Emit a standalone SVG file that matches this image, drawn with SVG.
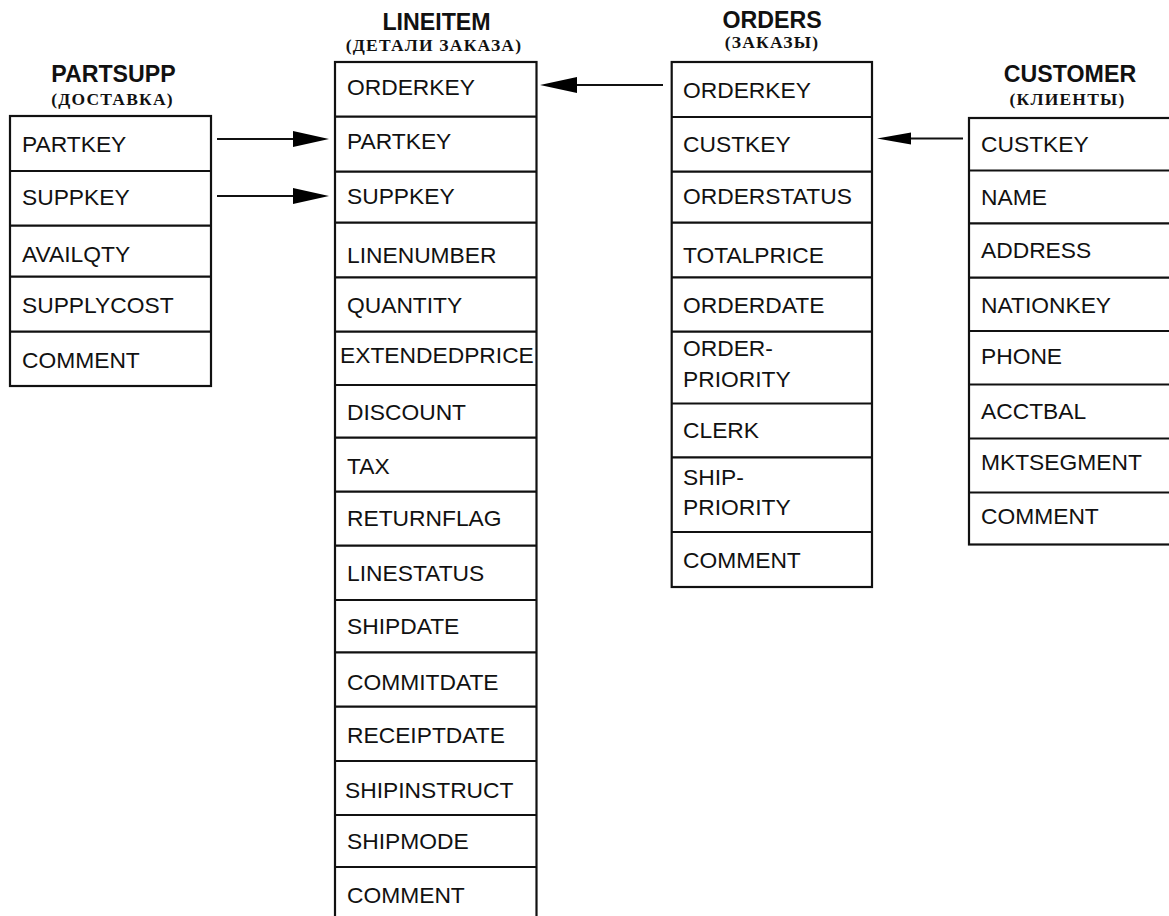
<svg xmlns="http://www.w3.org/2000/svg" width="1169" height="916" viewBox="0 0 1169 916">
<style>
.box{fill:#fff;stroke:#111;stroke-width:2.2}
.div{stroke:#111;stroke-width:2.2}
.f{font-family:"Liberation Sans",Arial,sans-serif;font-size:22.8px;fill:#111}
.t{font-family:"Liberation Sans",Arial,sans-serif;font-size:23.2px;font-weight:bold;fill:#111;text-anchor:middle}
.s{font-family:"Liberation Serif","Times New Roman",serif;font-size:17.5px;font-weight:bold;fill:#111;text-anchor:middle;letter-spacing:1.2px}
.ln{stroke:#111;stroke-width:2.2;fill:none}
.ah{fill:#000}
</style>
<rect width="1169" height="916" fill="#fff"/>
<g id="partsupp">
<text class="t" x="113.5" y="82">PARTSUPP</text>
<text class="s" x="112.5" y="104.5">(ДОСТАВКА)</text>
<rect class="box" x="10" y="116" width="201" height="270"/>
<line class="div" x1="10" y1="171" x2="211" y2="171"/>
<line class="div" x1="10" y1="225.7" x2="211" y2="225.7"/>
<line class="div" x1="10" y1="276.7" x2="211" y2="276.7"/>
<line class="div" x1="10" y1="331.7" x2="211" y2="331.7"/>
<text class="f" x="22" y="151.7">PARTKEY</text>
<text class="f" x="22" y="205">SUPPKEY</text>
<text class="f" x="22" y="261.7">AVAILQTY</text>
<text class="f" x="22" y="313.3">SUPPLYCOST</text>
<text class="f" x="22" y="368.3">COMMENT</text>
</g>
<g id="lineitem">
<text class="t" x="436.5" y="30">LINEITEM</text>
<text class="s" x="434" y="50.5">(ДЕТАЛИ ЗАКАЗА)</text>
<rect class="box" x="335" y="62" width="201.5" height="862"/>
<line class="div" x1="335" y1="116.7" x2="536.5" y2="116.7"/>
<line class="div" x1="335" y1="171.7" x2="536.5" y2="171.7"/>
<line class="div" x1="335" y1="222.7" x2="536.5" y2="222.7"/>
<line class="div" x1="335" y1="277.3" x2="536.5" y2="277.3"/>
<line class="div" x1="335" y1="331.7" x2="536.5" y2="331.7"/>
<line class="div" x1="335" y1="385" x2="536.5" y2="385"/>
<line class="div" x1="335" y1="437.7" x2="536.5" y2="437.7"/>
<line class="div" x1="335" y1="491.7" x2="536.5" y2="491.7"/>
<line class="div" x1="335" y1="545.7" x2="536.5" y2="545.7"/>
<line class="div" x1="335" y1="600" x2="536.5" y2="600"/>
<line class="div" x1="335" y1="652.3" x2="536.5" y2="652.3"/>
<line class="div" x1="335" y1="706.7" x2="536.5" y2="706.7"/>
<line class="div" x1="335" y1="761" x2="536.5" y2="761"/>
<line class="div" x1="335" y1="815" x2="536.5" y2="815"/>
<line class="div" x1="335" y1="867" x2="536.5" y2="867"/>
<text class="f" x="347" y="95">ORDERKEY</text>
<text class="f" x="347" y="149">PARTKEY</text>
<text class="f" x="347" y="204">SUPPKEY</text>
<text class="f" x="347" y="263">LINENUMBER</text>
<text class="f" x="347" y="313">QUANTITY</text>
<text class="f" x="340" y="363">EXTENDEDPRICE</text>
<text class="f" x="347" y="420">DISCOUNT</text>
<text class="f" x="347" y="474">TAX</text>
<text class="f" x="347" y="526">RETURNFLAG</text>
<text class="f" x="347" y="581">LINESTATUS</text>
<text class="f" x="347" y="634">SHIPDATE</text>
<text class="f" x="347" y="690">COMMITDATE</text>
<text class="f" x="347" y="743">RECEIPTDATE</text>
<text class="f" x="345" y="798">SHIPINSTRUCT</text>
<text class="f" x="347" y="849">SHIPMODE</text>
<text class="f" x="347" y="903">COMMENT</text>
</g>
<g id="orders">
<text class="t" x="772" y="28">ORDERS</text>
<text class="s" x="772" y="47.5">(ЗАКАЗЫ)</text>
<rect class="box" x="671.7" y="62" width="200.3" height="525"/>
<line class="div" x1="671.7" y1="117" x2="872" y2="117"/>
<line class="div" x1="671.7" y1="171.7" x2="872" y2="171.7"/>
<line class="div" x1="671.7" y1="222.7" x2="872" y2="222.7"/>
<line class="div" x1="671.7" y1="277.3" x2="872" y2="277.3"/>
<line class="div" x1="671.7" y1="331.7" x2="872" y2="331.7"/>
<line class="div" x1="671.7" y1="403.5" x2="872" y2="403.5"/>
<line class="div" x1="671.7" y1="457.3" x2="872" y2="457.3"/>
<line class="div" x1="671.7" y1="532" x2="872" y2="532"/>
<text class="f" x="683" y="98">ORDERKEY</text>
<text class="f" x="683" y="151.7">CUSTKEY</text>
<text class="f" x="683" y="204">ORDERSTATUS</text>
<text class="f" x="683" y="263">TOTALPRICE</text>
<text class="f" x="683" y="312.7">ORDERDATE</text>
<text class="f" x="683" y="356">ORDER-</text>
<text class="f" x="683" y="386.7">PRIORITY</text>
<text class="f" x="683" y="438.3">CLERK</text>
<text class="f" x="683" y="485">SHIP-</text>
<text class="f" x="683" y="515">PRIORITY</text>
<text class="f" x="683" y="567.7">COMMENT</text>
</g>
<g id="customer">
<text class="t" x="1070" y="81.7">CUSTOMER</text>
<text class="s" x="1067.5" y="104.5">(КЛИЕНТЫ)</text>
<rect class="box" x="969" y="118" width="210" height="426.5"/>
<line class="div" x1="969" y1="170.5" x2="1179" y2="170.5"/>
<line class="div" x1="969" y1="223.3" x2="1179" y2="223.3"/>
<line class="div" x1="969" y1="277.7" x2="1179" y2="277.7"/>
<line class="div" x1="969" y1="331" x2="1179" y2="331"/>
<line class="div" x1="969" y1="384.5" x2="1179" y2="384.5"/>
<line class="div" x1="969" y1="438.5" x2="1179" y2="438.5"/>
<line class="div" x1="969" y1="492.5" x2="1179" y2="492.5"/>
<text class="f" x="981" y="151.7">CUSTKEY</text>
<text class="f" x="981" y="205">NAME</text>
<text class="f" x="981" y="258.3">ADDRESS</text>
<text class="f" x="981" y="312.7">NATIONKEY</text>
<text class="f" x="981" y="364.3">PHONE</text>
<text class="f" x="981" y="419.3">ACCTBAL</text>
<text class="f" x="981" y="470">MKTSEGMENT</text>
<text class="f" x="981" y="524">COMMENT</text>
</g>
<g id="connectors">
<line class="ln" x1="217" y1="139" x2="294" y2="139"/>
<polygon class="ah" points="293,131 329,139 293,147"/>
<line class="ln" x1="217" y1="196" x2="294" y2="196"/>
<polygon class="ah" points="293,188 329,196 293,204"/>
<line class="ln" x1="663" y1="85" x2="576" y2="85"/>
<polygon class="ah" points="577,77 540,85 577,93"/>
<line class="ln" x1="963" y1="138.5" x2="910" y2="138.5"/>
<polygon class="ah" points="911,132.5 877,138.5 911,144.5"/>
</g>
</svg>
